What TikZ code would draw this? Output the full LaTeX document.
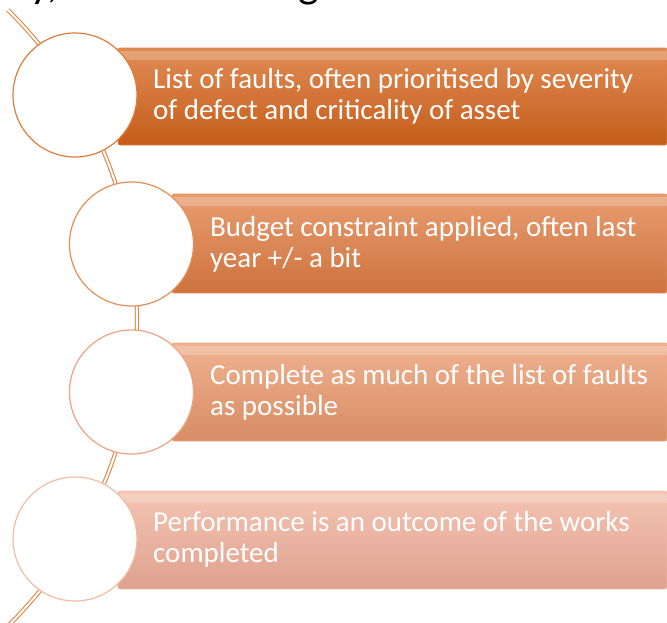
\documentclass[tikz,border=0pt]{standalone}
\usepackage{fontspec}
\setmainfont{Carlito}
\definecolor{bA}{HTML}{D6651C}
\definecolor{bB}{HTML}{E07C42}
\definecolor{bC}{HTML}{EA986C}
\definecolor{bD}{HTML}{F1B09A}
\definecolor{sA}{HTML}{E07B39}
\definecolor{sB}{HTML}{E68E58}
\definecolor{sC}{HTML}{EDA37F}
\definecolor{sD}{HTML}{F3BBA4}
\definecolor{lineC}{HTML}{E58546}
\tikzset{
  circ/.style={circle, draw=#1, line width=1.2pt, fill=white, minimum size=124pt, inner sep=0pt},
  bartext/.style={anchor=west, text=white, align=left, inner sep=0pt, font=\fontsize{29}{31}\selectfont},
  connector/.style={draw=lineC, line width=1.1pt, double=white, double distance=2pt},
}
\newcommand{\mybar}[4]{%
  \shade[top color=#4!75!white, bottom color=#4!92!black, draw=#4!85!white, line width=0.6pt, rounded corners=2pt] (#1,#2) rectangle (667,#3);
  \fill[white, opacity=0.22] (#1,#2+3) rectangle (667,#2+12);
}
\begin{document}
\begin{tikzpicture}[x=1pt,y=-1pt]
\useasboundingbox (0,0) rectangle (667,622);
\begin{scope}
\clip (0,0) rectangle (667,622);
% title fragments (clipped as in the reference)
\begin{scope}
\clip (0,0) rectangle (667,10);
\node[anchor=base west, inner sep=0pt, font=\fontsize{44}{50}\selectfont] (tA) at (30,-3) {y,};
\node[anchor=base west, inner sep=0pt, font=\fontsize{44}{50}\selectfont] (tB) at (298,-3) {g};
\end{scope}
% connector arc
\draw[connector] plot[smooth, domain=-45.5:45.5, samples=60] ({-295+432*cos(\x)},{318+432*sin(\x)});
% bars
\mybar{118}{48}{145}{bA}
\mybar{172}{194}{293}{bB}
\mybar{172}{343}{441}{bC}
\mybar{118}{491}{589}{bD}
% circles
\node[circ=sA] (c1) at (75,95) {};
\node[circ=sB] (c2) at (131.5,244) {};
\node[circ=sC] (c3) at (131.5,392) {};
\node[circ=sD] (c4) at (75,539) {};
% texts
\node[bartext] (t1) at (153,96) {List of faults, often prioritised by severity\\of defect and criticality of asset};
\node[bartext] (t2) at (210,244) {Budget constraint applied, often last\\year +/- a bit};
\node[bartext] (t3) at (210,392) {Complete as much of the list of faults\\as possible};
\node[bartext] (t4) at (153,539) {Performance is an outcome of the works\\completed};
\end{scope}
\end{tikzpicture}
\end{document}
